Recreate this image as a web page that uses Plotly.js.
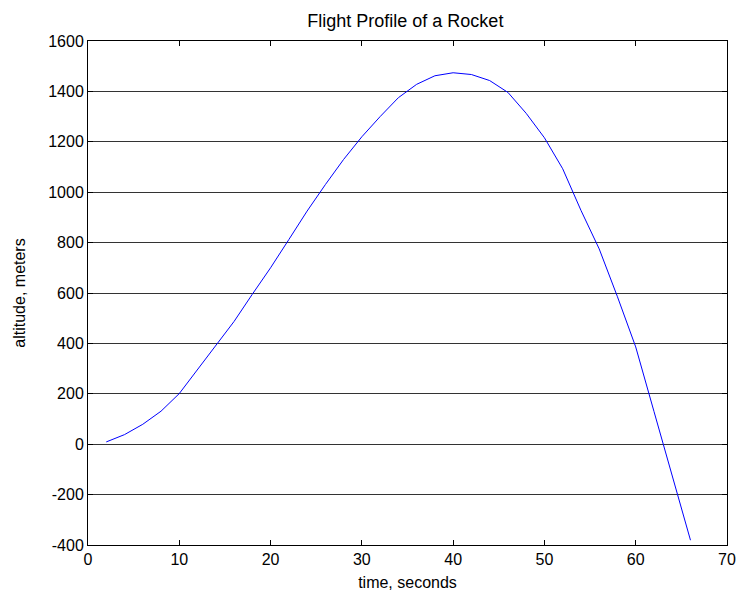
<!DOCTYPE html>
<html>
<head>
<meta charset="utf-8">
<script src="https://cdn.plot.ly/plotly-3.0.1.min.js"></script>
<style>html,body{margin:0;padding:0;background:#fff;}#chart{width:737px;height:596px;}</style>
</head>
<body>
<div id="chart"></div>
<script>
// time in seconds
const timeSeconds = [2, 4, 6, 8, 10, 12, 14, 16, 18, 20, 22, 24, 26, 28, 30, 32, 34, 36, 38, 40, 42, 44, 46, 48, 50, 52, 54, 56, 58, 60, 62, 64, 66];
// altitude in meters
const altitudeMeters = [9, 38, 79, 131, 201, 295, 390, 487, 595, 700, 812, 925, 1030, 1130, 1220, 1300, 1375, 1428, 1462, 1474, 1467, 1443, 1396, 1313, 1216, 1093, 928, 775, 585, 386, 130, -125, -381];
const xTicks = [0, 10, 20, 30, 40, 50, 60, 70];
const yTicks = [-400, -200, 0, 200, 400, 600, 800, 1000, 1200, 1400, 1600];

const font = {family: 'Liberation Sans, Arial, sans-serif', color: '#000'};

Plotly.newPlot('chart', [{
  x: timeSeconds,
  y: altitudeMeters,
  type: 'scatter',
  mode: 'lines',
  line: {color: '#0000ff', width: 1},
  hoverinfo: 'skip'
}], {
  width: 737,
  height: 596,
  paper_bgcolor: '#fff',
  plot_bgcolor: '#fff',
  showlegend: false,
  margin: {l: 88, r: 10, t: 41, b: 51, pad: 0},
  title: {text: 'Flight Profile of a Rocket', font: Object.assign({size: 18}, font), x: 0.55, xanchor: 'center', y: 0.966, yanchor: 'middle'},
  xaxis: {
    range: [0, 70],
    tickvals: xTicks,
    ticktext: xTicks.map(String),
    ticks: 'inside', ticklen: 5, tickcolor: '#000', tickwidth: 1,
    showline: true, linecolor: '#000', linewidth: 1, mirror: 'ticks',
    showgrid: false, zeroline: false,
    tickfont: Object.assign({size: 16}, font),
    title: {text: 'time, seconds', font: Object.assign({size: 16}, font), standoff: 9}
  },
  yaxis: {
    range: [-400, 1600],
    tickvals: yTicks,
    ticktext: yTicks.map(String),
    ticks: 'inside', ticklen: 5, tickcolor: '#000', tickwidth: 1,
    showline: true, linecolor: '#000', linewidth: 1, mirror: 'ticks',
    showgrid: true, gridcolor: '#333', gridwidth: 1, zeroline: false,
    tickfont: Object.assign({size: 16}, font),
    title: {text: 'altitude, meters', font: Object.assign({size: 16}, font), standoff: 18}
  }
}, {displayModeBar: false, staticPlot: true});
</script>
</body>
</html>
